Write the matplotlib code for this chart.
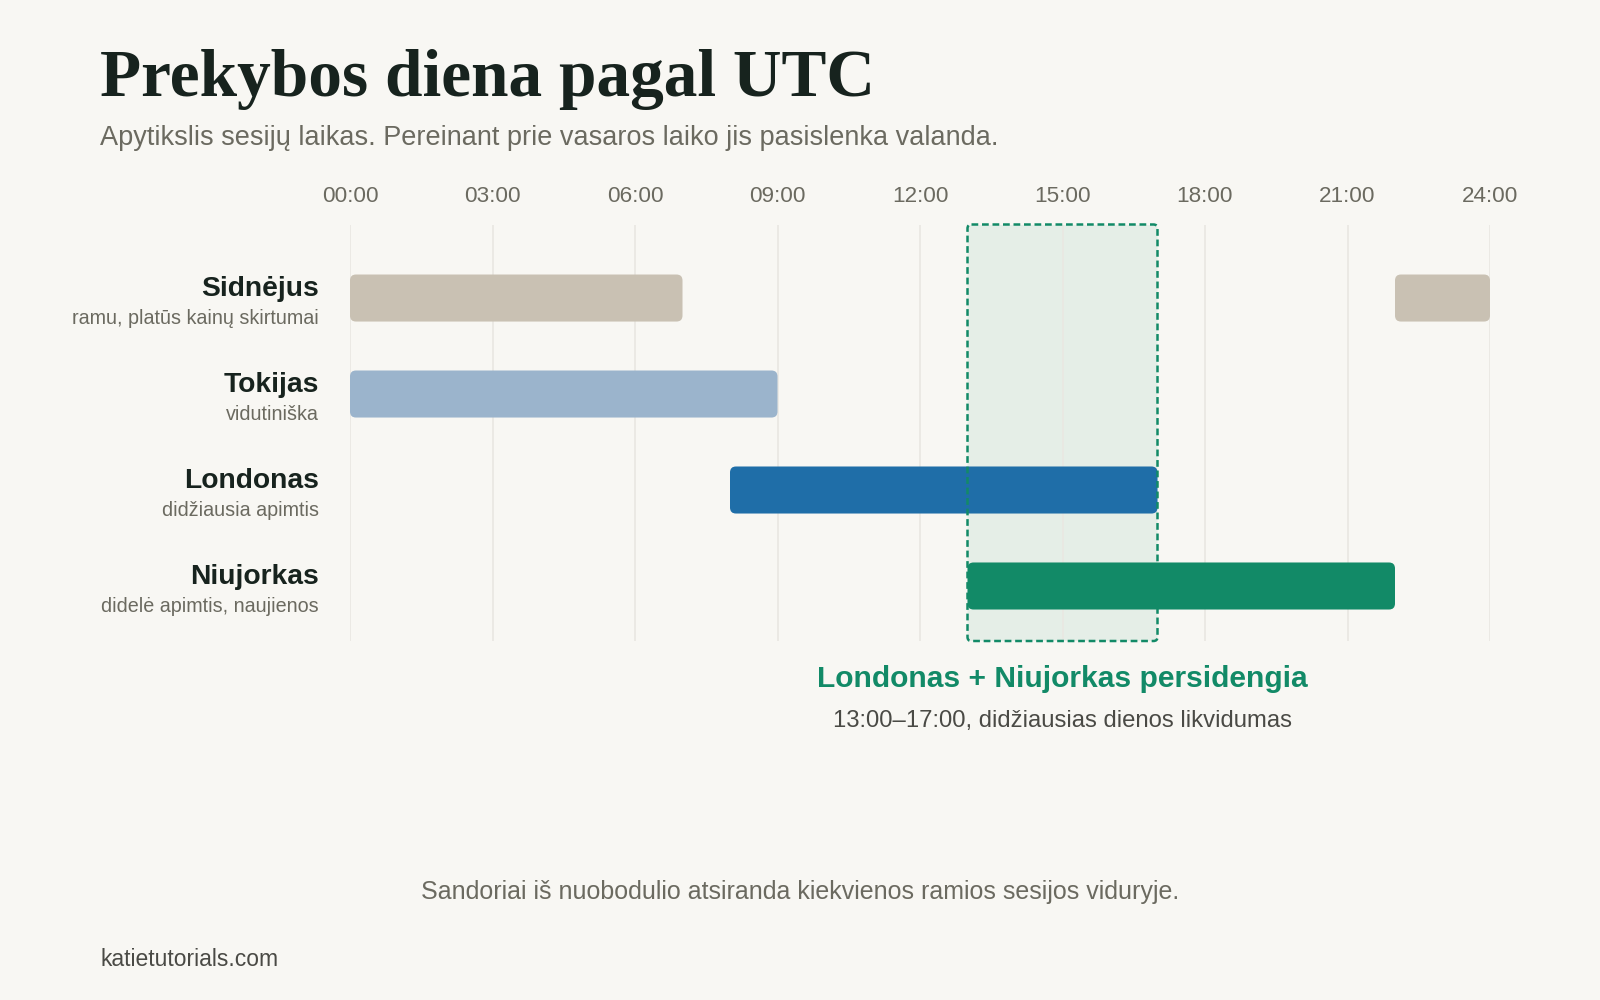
import matplotlib
matplotlib.use("Agg")
import matplotlib.pyplot as plt
from matplotlib.patches import FancyBboxPatch

# ---- data ----
sessions = ["Sidnėjus", "Tokijas", "Londonas", "Niujorkas"]
notes = ["ramu, platūs kainų skirtumai", "vidutiniška", "didžiausia apimtis", "didelė apimtis, naujienos"]
starts = [22, 0, 8, 13]   # UTC hour
ends = [7, 9, 17, 22]     # UTC hour (Sydney wraps past midnight)
colors = ["#c9c1b3", "#9bb4cc", "#1f6ea8", "#128a67"]
tick_hours = [0, 3, 6, 9, 12, 15, 18, 21, 24]
tick_labels = ["00:00", "03:00", "06:00", "09:00", "12:00", "15:00", "18:00", "21:00", "24:00"]
overlap_start, overlap_end = 13, 17

title = "Prekybos diena pagal UTC"
subtitle = "Apytikslis sesijų laikas. Pereinant prie vasaros laiko jis pasislenka valanda."
overlap_title = "Londonas + Niujorkas persidengia"
overlap_note = "13:00–17:00, didžiausias dienos likvidumas"
footer_note = "Sandoriai iš nuobodulio atsiranda kiekvienos ramios sesijos viduryje."
source = "katietutorials.com"

BG = "#f8f7f3"
DARK = "#17231e"
GRAY = "#6b6a60"
GREEN = "#128a67"

plt.rcParams["font.family"] = ["Liberation Sans", "DejaVu Sans"]

W, H = 1600, 1000
fig = plt.figure(figsize=(16, 10), dpi=100, facecolor=BG)
ax_left, ax_right = 350, 1490
ax_top, ax_bot = 224.5, 641
ax = fig.add_axes([ax_left / W, 1 - ax_bot / H, (ax_right - ax_left) / W, (ax_bot - ax_top) / H])
ax.set_facecolor(BG)
ax.set_xlim(0, 24)
ymin, ymax = -0.766, 3.573
ax.set_ylim(ymax, ymin)
for s in ax.spines.values():
    s.set_visible(False)
ax.set_yticks([])
ax.xaxis.tick_top()
ax.set_xticks(tick_hours)
ax.set_xticklabels(tick_labels, fontsize=16.2, color=GRAY)
ax.tick_params(axis="x", length=0, pad=12.5)
for h in tick_hours:
    ax.axvline(h, color="#e9e7e1", lw=1.2, zorder=0.2)

# pixel-per-unit to keep rounded corners circular
px_x = (ax_right - ax_left) / 24.0
px_y = (ax_bot - ax_top) / (ymax - ymin)
aspect = px_x / px_y

bar_h = 0.49
r = 6 / px_x

def rbox(x0, x1, yc, color, z):
    p = FancyBboxPatch((x0, yc - bar_h / 2), x1 - x0, bar_h,
                       boxstyle=f"round,pad=0,rounding_size={r}",
                       mutation_aspect=aspect, facecolor=color, edgecolor="none", zorder=z)
    ax.add_patch(p)

for i, (s, e, c) in enumerate(zip(starts, ends, colors)):
    if e < s:
        rbox(s, 24, i, c, 2)
        rbox(0, e, i, c, 2)
    else:
        rbox(s, e, i, c, 2)

# overlap highlight
rs = 4 / px_x
fill = FancyBboxPatch((overlap_start, ymin), overlap_end - overlap_start, ymax - ymin,
                      boxstyle=f"round,pad=0,rounding_size={rs}", mutation_aspect=aspect,
                      facecolor="#e5eee7", edgecolor="none", zorder=0.1)
ax.add_patch(fill)
edge = FancyBboxPatch((overlap_start, ymin), overlap_end - overlap_start, ymax - ymin,
                      boxstyle=f"round,pad=0,rounding_size={rs}", mutation_aspect=aspect,
                      facecolor="none", edgecolor=GREEN, lw=1.8, linestyle=(0, (2.7, 1.5)),
                      zorder=3, clip_on=False)
ax.add_patch(edge)

# row labels
for i, (name, note) in enumerate(zip(sessions, notes)):
    ax.annotate(name, xy=(0, i), xytext=(-31, 2.3), textcoords="offset pixels",
                ha="right", va="baseline", fontsize=20.3, fontweight="bold", color=DARK,
                annotation_clip=False)
    ax.annotate(note, xy=(0, i), xytext=(-31, -25.7), textcoords="offset pixels",
                ha="right", va="baseline", fontsize=14.2, color=GRAY, annotation_clip=False)

# overlap annotation
mid = (overlap_start + overlap_end) / 2
ax.annotate(overlap_title, xy=(mid, ymax), xytext=(0, -45.7), textcoords="offset pixels",
            ha="center", va="baseline", fontsize=21.6, fontweight="bold", color=GREEN,
            annotation_clip=False)
ax.annotate(overlap_note, xy=(mid, ymax), xytext=(0, -86.3), textcoords="offset pixels",
            ha="center", va="baseline", fontsize=17.2, color="#4a4a45", annotation_clip=False)

# titles and footer
fig.text(100 / W, 1 - 96 / H, title, fontsize=48.5, fontweight="bold",
         family=["Liberation Serif", "DejaVu Serif"], color=DARK, ha="left", va="baseline")
fig.text(100 / W, 1 - 145 / H, subtitle, fontsize=19.5, color=GRAY, ha="left", va="baseline")
fig.text(800 / W, 1 - 899 / H, footer_note, fontsize=18, color=GRAY, ha="center", va="baseline")
fig.text(100 / W, 1 - 966 / H, source, fontsize=16.5, color="#4a4a45", ha="left", va="baseline")

fig.savefig("out.png", dpi=100, facecolor=BG)
